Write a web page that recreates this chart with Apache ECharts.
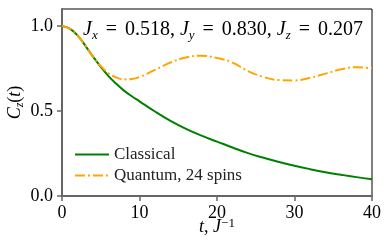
<!DOCTYPE html>
<html><head><meta charset="utf-8">
<script src="https://cdn.jsdelivr.net/npm/echarts@6/dist/echarts.min.js"></script>
<style>html,body{margin:0;padding:0;background:#fff}#c{width:387px;height:242px}</style>
</head><body><div id="c"></div>
<script>
const tVals = [0,1,2,3,4,5,6,7,8,9,10,12,14,16,18,20,22,24,26,28,30,32,34,36,38,40];
const classical = [1.0,0.985,0.945,0.885,0.82,0.76,0.705,0.66,0.62,0.587,0.557,0.497,0.442,0.395,0.355,0.32,0.285,0.252,0.225,0.2,0.178,0.158,0.14,0.125,0.111,0.099];
const quantum = [1.0,0.985,0.945,0.885,0.82,0.765,0.722,0.697,0.686,0.688,0.70,0.742,0.785,0.815,0.825,0.812,0.785,0.735,0.70,0.682,0.68,0.695,0.72,0.745,0.758,0.75];
const xTicks = [0,10,20,30,40];
const yTicks = [0,0.5,1.0];
const seriesNames = ['Classical','Quantum, 24 spins'];

const serif = 'Liberation Serif';
const base = {fontFamily:serif,fontWeight:'normal',color:'#000'};
const chart = echarts.init(document.getElementById('c'), null, {renderer:'canvas'});
chart.setOption({
  animation:false,
  grid:{left:62,right:15,top:9,bottom:46,show:true,borderColor:'#000',borderWidth:1,outerBoundsMode:'none',containLabel:false},
  title:{
    text:'{i|J}{s|x}{e|=}{n|0.518, }{i|J}{s|y}{e|=}{n|0.830, }{i|J}{s|z}{e|=}{n|0.207}',
    left:78, top:13,
    textStyle:{fontWeight:'normal',rich:{
      i:Object.assign({},base,{fontStyle:'italic',fontSize:20,lineHeight:24}),
      n:Object.assign({},base,{fontSize:20,lineHeight:24}),
      e:Object.assign({},base,{fontSize:20,lineHeight:24,padding:[0,8,0,8]}),
      s:Object.assign({},base,{fontStyle:'italic',fontSize:13,lineHeight:15,verticalAlign:'bottom'})
    }}
  },
  legend:{
    orient:'vertical', left:69, top:141, itemWidth:34, itemHeight:14, itemGap:4,
    data:seriesNames,
    itemStyle:{opacity:0},
    textStyle:{fontFamily:serif,fontSize:17,color:'#222'}
  },
  xAxis:{
    type:'value', min:0, max:40, interval:10,
    axisLine:{lineStyle:{color:'#666',width:2}},
    axisTick:{customValues:xTicks,length:5,lineStyle:{color:'#666',width:1.5}},
    axisLabel:{customValues:xTicks,fontFamily:serif,fontSize:18,color:'#000',margin:8},
    splitLine:{show:false},
    name:'{i|t}{n|, }{i|J}{s|−1}',
    nameLocation:'middle', nameGap:21, nameMoveOverlap:false,
    nameTextStyle:{rich:{
      i:Object.assign({},base,{fontStyle:'italic',fontSize:18,lineHeight:20}),
      n:Object.assign({},base,{fontSize:18,lineHeight:20}),
      s:Object.assign({},base,{fontSize:13,lineHeight:14,verticalAlign:'top'})
    }}
  },
  yAxis:{
    type:'value', min:0, max:1.1, interval:0.5,
    axisLine:{lineStyle:{color:'#666',width:2}},
    axisTick:{show:true,customValues:yTicks,length:5,lineStyle:{color:'#666',width:1.5}},
    axisLabel:{customValues:yTicks,fontFamily:serif,fontSize:18,color:'#000',margin:9,formatter:v=>v.toFixed(1)},
    splitLine:{show:false},
    name:'{i|C}{s|z}{n|(}{i|t}{n|)}',
    nameLocation:'middle', nameGap:36, nameRotate:90, nameMoveOverlap:false,
    nameTextStyle:{rich:{
      i:Object.assign({},base,{fontStyle:'italic',fontSize:18,lineHeight:22}),
      n:Object.assign({},base,{fontSize:18,lineHeight:22}),
      s:Object.assign({},base,{fontStyle:'italic',fontSize:12,lineHeight:14,verticalAlign:'bottom'})
    }}
  },
  series:[
    {name:seriesNames[0],type:'line',smooth:0.4,symbol:'none',data:tVals.map((t,i)=>[t,classical[i]]),
     lineStyle:{color:'#008000',width:2},itemStyle:{color:'#008000'},z:2},
    {name:seriesNames[1],type:'line',smooth:0.4,symbol:'none',data:tVals.map((t,i)=>[t,quantum[i]]),
     lineStyle:{color:'#FFA500',width:2,type:[10,3,2,3]},itemStyle:{color:'#FFA500'},z:3}
  ]
});
</script></body></html>
